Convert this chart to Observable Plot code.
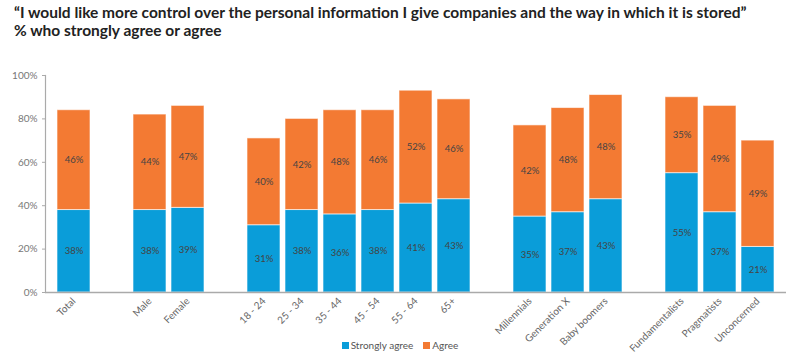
<!DOCTYPE html>
<html><head><meta charset="utf-8">
<script src="https://cdn.jsdelivr.net/npm/d3@7"></script>
<script src="https://cdn.jsdelivr.net/npm/@observablehq/plot@0.6"></script>
<style>
body{margin:0;background:#fff;font-family:Lato,sans-serif;}
#wrap{position:relative;width:800px;height:360px;overflow:hidden;background:#fff}
#title{position:absolute;left:14px;top:3px;font-weight:700;font-size:15.5px;line-height:18px;color:#222;white-space:nowrap}
#chart{position:absolute;left:0;top:48px}
#chart svg{overflow:visible}
#legend{position:absolute;top:339px;left:0;width:800px;text-align:center;font-size:10px;color:#555;font-family:Lato,sans-serif}
#legend span.sw{display:inline-block;width:7px;height:7px;margin-right:2px;vertical-align:0px}
#legend span.item{margin:0 5px}
</style>
</head><body>
<div id="wrap">
<div id="title"></div>
<div id="chart"></div>
<div id="legend"></div>
</div>
<script>
const titleLines = ["\u201cI would like more control over the personal information I give companies and the way in which it is stored\u201d", "% who strongly agree or agree"];
const groups = [
  ["Total"],
  ["Male", "Female"],
  ["18 - 24", "25 - 34", "35 - 44", "45 - 54", "55 - 64", "65+"],
  ["Millennials", "Generation X", "Baby boomers"],
  ["Fundamentalists", "Pragmatists", "Unconcerned"]
];
const categories = groups.flat();
const series = ["Strongly agree", "Agree"];
const colors = ["#0a9dd9", "#f37a33"];
const stronglyAgree = [38, 38, 39, 31, 38, 36, 38, 41, 43, 35, 37, 43, 55, 37, 21];
const agree = [46, 44, 47, 40, 42, 48, 46, 52, 46, 42, 48, 48, 35, 49, 49];
const yTicks = [0, 20, 40, 60, 80, 100];

document.getElementById("title").innerHTML = titleLines.join("<br>");

// band domain with empty slots between groups
const domain = [];
groups.forEach((g, i) => { if (i > 0) domain.push("gap" + i); domain.push(...g); });

const rows = [];
categories.forEach((c, i) => {
  rows.push({category: c, series: series[0], value: stronglyAgree[i], mid: stronglyAgree[i] / 2});
  rows.push({category: c, series: series[1], value: agree[i], mid: stronglyAgree[i] + agree[i] / 2});
});

const chart = Plot.plot({
  width: 800, height: 290,
  marginTop: 27, marginBottom: 46, marginLeft: 45, marginRight: 14,
  style: {fontFamily: "Lato, sans-serif", fontSize: "10px", color: "#777", background: "white", overflow: "visible"},
  x: {domain, paddingInner: 0.13, paddingOuter: 0.1, label: null},
  y: {domain: [0, 100], label: null},
  color: {domain: series, range: colors},
  marks: [
    Plot.barY(rows, {x: "category", y: "value", fill: "series", stroke: "white", strokeWidth: 1, strokeOpacity: 0.6}),
    Plot.text(rows, {x: "category", y: "mid", text: d => d.value + "%", fill: "#444", fontSize: 9.5}),
    Plot.ruleY([0], {stroke: "#aaa", strokeWidth: 1.5}),
    Plot.frame({anchor: "left", stroke: "#aaa", strokeWidth: 1.2}),
    Plot.axisY({ticks: yTicks, tickFormat: d => d + "%", tickSize: 3, tickPadding: 5, label: null, stroke: "#aaa", fill: "#777"}),
    Plot.axisX({ticks: categories, tickRotate: -45, tickSize: 0, tickPadding: 7, label: null, fill: "#666"})
  ]
});
document.getElementById("chart").appendChild(chart);

document.getElementById("legend").innerHTML = series.map((s, i) =>
  `<span class="item"><span class="sw" style="background:${colors[i]}"></span>${s}</span>`).join("");
</script>
</body></html>
